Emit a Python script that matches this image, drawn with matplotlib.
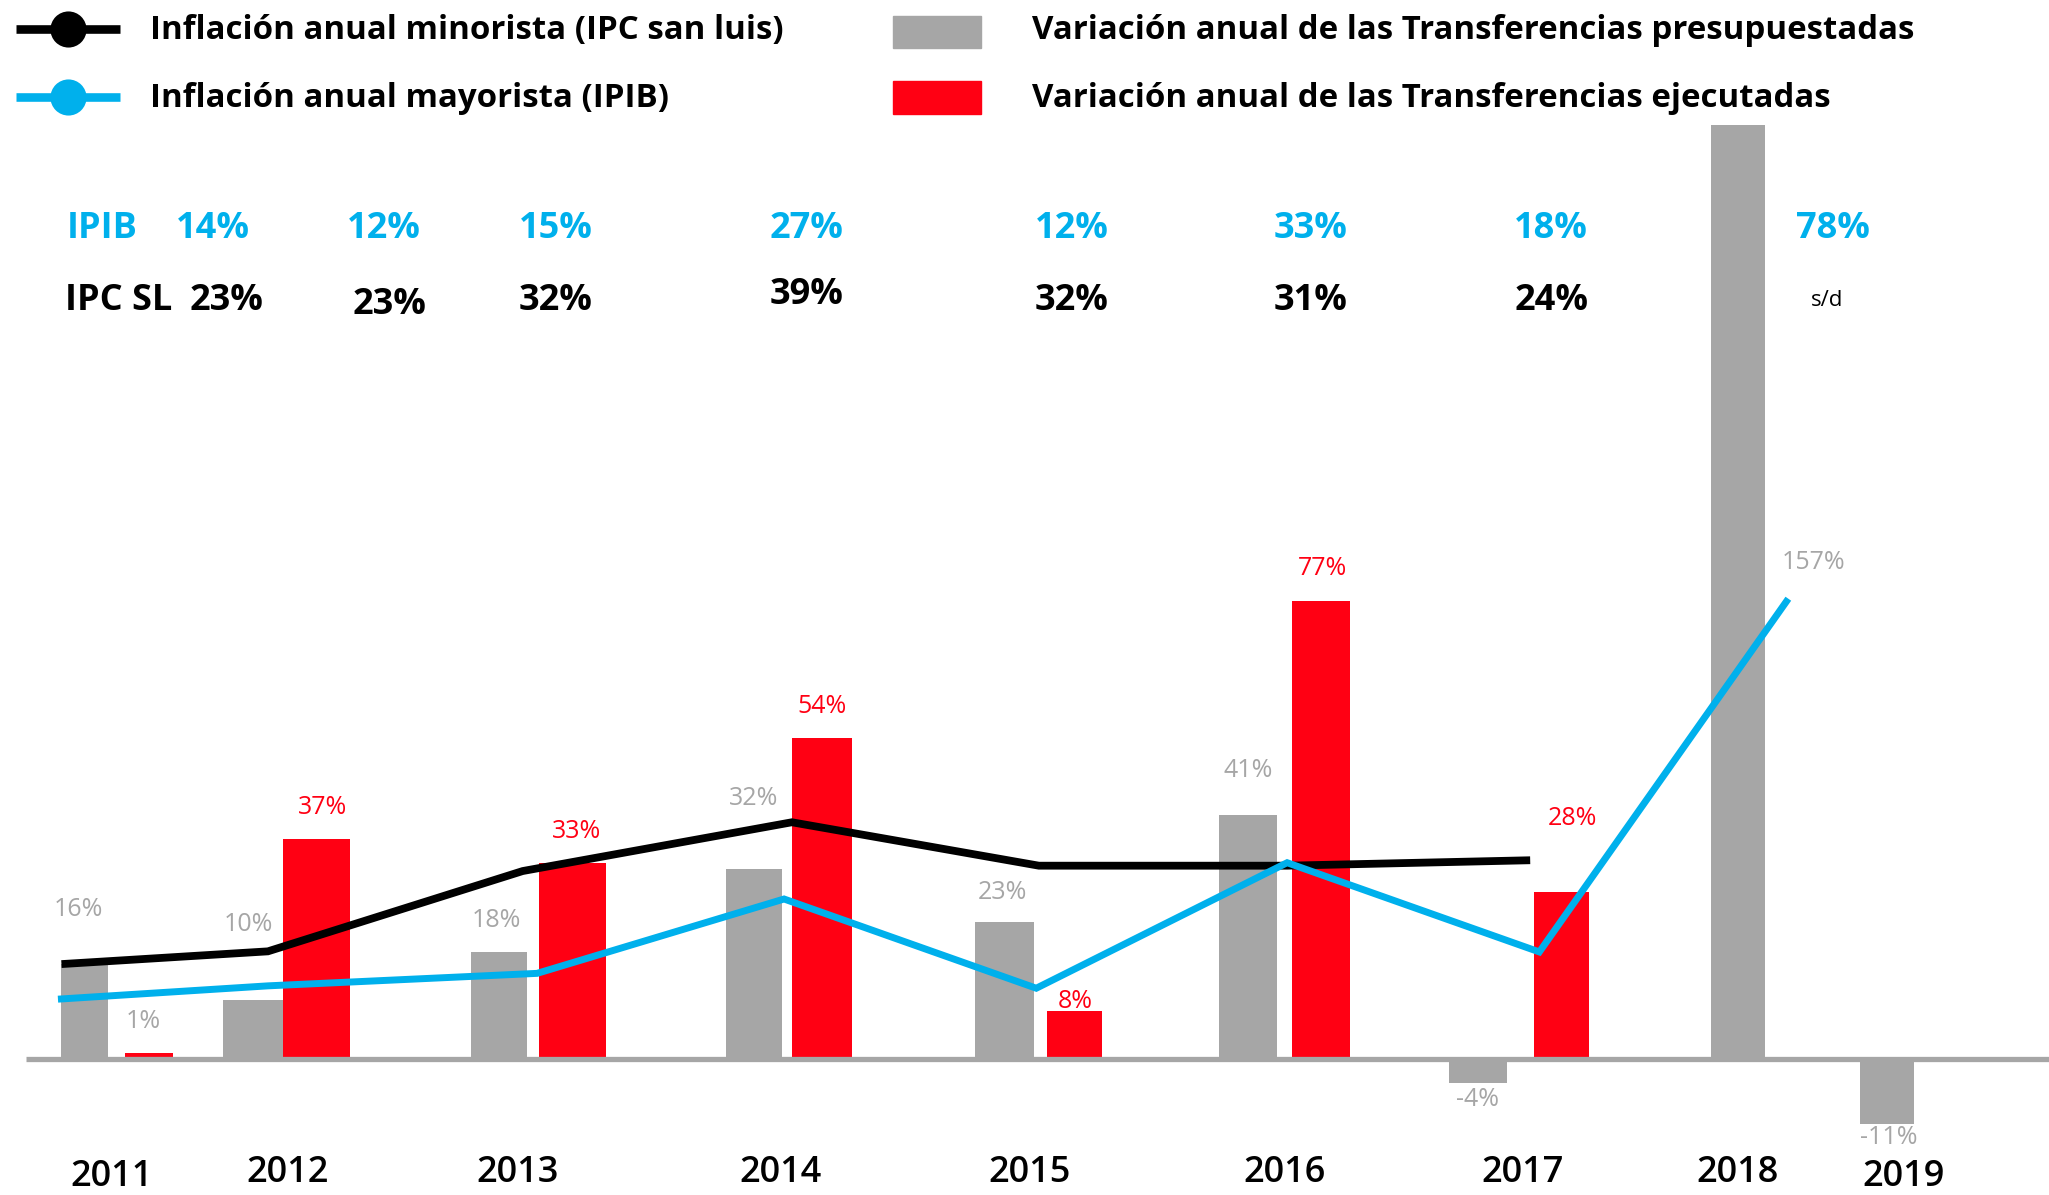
import matplotlib
matplotlib.use("Agg")
import matplotlib.pyplot as plt
from matplotlib.patches import Rectangle
from matplotlib.lines import Line2D

# ---------------- data ----------------
years = ["2011", "2012", "2013", "2014", "2015", "2016", "2017", "2018", "2019"]
presupuestadas = [16, 10, 18, 32, 23, 41, -4, 157, -11]          # gray bars
ejecutadas_years = ["2011", "2012", "2013", "2014", "2015", "2016", "2017"]
ejecutadas = [1, 37, 33, 54, 8, 77, 28]                           # red bars
ipib_labels = [14, 12, 15, 27, 12, 33, 18, 78]                    # top row (blue)
ipc_labels = ["23%", "23%", "32%", "39%", "32%", "31%", "24%", "s/d"]  # second row
# line values as drawn in the picture (same % scale as the bars)
ipc_line = [16.0, 18.1, 31.6, 39.8, 32.5, 32.5, 33.4]
ipib_line = [10.1, 12.3, 14.4, 26.9, 11.9, 33.0, 18.0, 76.9]

# ---------------- layout (reference display units, 1568 px wide) ----------------
GRAY = "#a6a6a6"
RED = "#ff0013"
BLUE = "#00b0ec"
FONT = "Open Sans"

PX = 4.55          # display px per percentage point
BASE = 810.0       # display y of zero line


def yd(v):
    """display y (from top) -> data units"""
    return (BASE - v) / PX


gray_x = [65, 194, 382, 577, 769, 955, 1131, 1330, 1444]
gray_w = [36, 46, 43, 43, 45, 45, 44, 42, 41]
red_x = [114, 242, 438, 629, 822, 1011, 1195]
red_w = [37, 51, 51, 46, 42, 44, 42]
ipc_x = [50, 205, 400, 606, 795, 985, 1168]
ipib_x = [47, 205, 411, 600, 793, 985, 1178, 1367]

fig = plt.figure(figsize=(20.49, 11.95), dpi=100)
ax = fig.add_axes([0, 0, 1, 1])
ax.set_xlim(0, 1568)
ax.set_ylim(yd(914), yd(0))
ax.axis("off")

# bars
ax.bar(gray_x, presupuestadas, width=gray_w, color=GRAY, zorder=2)
ax.bar(red_x, ejecutadas, width=red_w, color=RED, zorder=2)

# zero line
ax.plot([20, 1568], [0, 0], color=GRAY, lw=3.8, zorder=3, solid_capstyle="butt")

# lines
ax.plot(ipc_x, ipc_line, color="black", lw=5.6, zorder=4, solid_joinstyle="miter")
ax.plot(ipib_x, ipib_line, color=BLUE, lw=5.0, zorder=5, solid_joinstyle="miter")

# bar labels
gray_lab_pos = [(60, 696), (190, 707), (380, 704), (577, 611), (767, 683),
                (955, 589), (1131, 841), (1388, 430), (1445, 870)]
for v, (x, y) in zip(presupuestadas, gray_lab_pos):
    ax.text(x, yd(y), f"{v}%", color=GRAY, fontsize=18, family=FONT,
            ha="center", va="center", zorder=6)
red_lab_pos = [(110, 781), (247, 618), (441, 636), (629, 540), (823, 766),
               (1012, 435), (1203, 626)]
for i, (v, (x, y)) in enumerate(zip(ejecutadas, red_lab_pos)):
    ax.text(x, yd(y), f"{v}%", color=GRAY if i == 0 else RED, fontsize=18,
            family=FONT, ha="center", va="center", zorder=6,
            fontweight="normal" if i == 0 else "medium")

# top rows
ax.text(78, yd(175), "IPIB", color=BLUE, fontsize=26, fontweight="bold",
        family=FONT, ha="center", va="center")
ipib_tx = [163, 294, 425, 617, 820, 1003, 1187, 1403]
for v, x in zip(ipib_labels, ipib_tx):
    ax.text(x, yd(175), f"{v}%", color=BLUE, fontsize=26, fontweight="bold",
            family=FONT, ha="center", va="center")
ax.text(91, yd(230), "IPC SL", color="black", fontsize=26, fontweight="bold",
        family=FONT, ha="center", va="center")
ipc_tx = [173, 298, 425, 617, 820, 1003, 1187, 1398]
ipc_ty = [230, 233, 230, 226, 230, 230, 230, 230]
for s, x, y in zip(ipc_labels, ipc_tx, ipc_ty):
    if s == "s/d":
        ax.text(x, yd(y), s, color="black", fontsize=16, family=FONT,
                ha="center", va="center")
    else:
        ax.text(x, yd(y), s, color="black", fontsize=26, fontweight="bold",
                family=FONT, ha="center", va="center")

# year labels
year_pos = [(85, 900), (220, 897), (396, 897), (597, 897), (788, 897),
            (983, 897), (1165, 897), (1330, 897), (1457, 900)]
for s, (x, y) in zip(years, year_pos):
    ax.text(x, yd(y), s, color="black", fontsize=26, fontweight="semibold",
            family=FONT, ha="center", va="center")

# legend (drawn manually)
for y, c in [(22, "black"), (74, BLUE)]:
    ax.add_line(Line2D([12, 92], [yd(y), yd(y)], color=c, lw=6.2,
                       solid_capstyle="butt"))
    ax.plot([52], [yd(y)], marker="o", color=c, markersize=26, zorder=6,
            markeredgewidth=0)
ax.text(115, yd(23), "Inflación anual minorista (IPC san luis)", fontsize=23.8,
        fontweight="bold", family=FONT, ha="left", va="center")
ax.text(115, yd(75), "Inflación anual mayorista (IPIB)", fontsize=23.8,
        fontweight="bold", family=FONT, ha="left", va="center")
for y, c in [(12, GRAY), (62, RED)]:
    ax.add_patch(Rectangle((683, yd(y + 25)), 68, 25 / PX, color=c))
ax.text(790, yd(23), "Variación anual de las Transferencias presupuestadas",
        fontsize=23.8, fontweight="bold", family=FONT, ha="left", va="center")
ax.text(790, yd(75), "Variación anual de las Transferencias ejecutadas",
        fontsize=23.8, fontweight="bold", family=FONT, ha="left", va="center")

fig.savefig("out.png", dpi=100)
